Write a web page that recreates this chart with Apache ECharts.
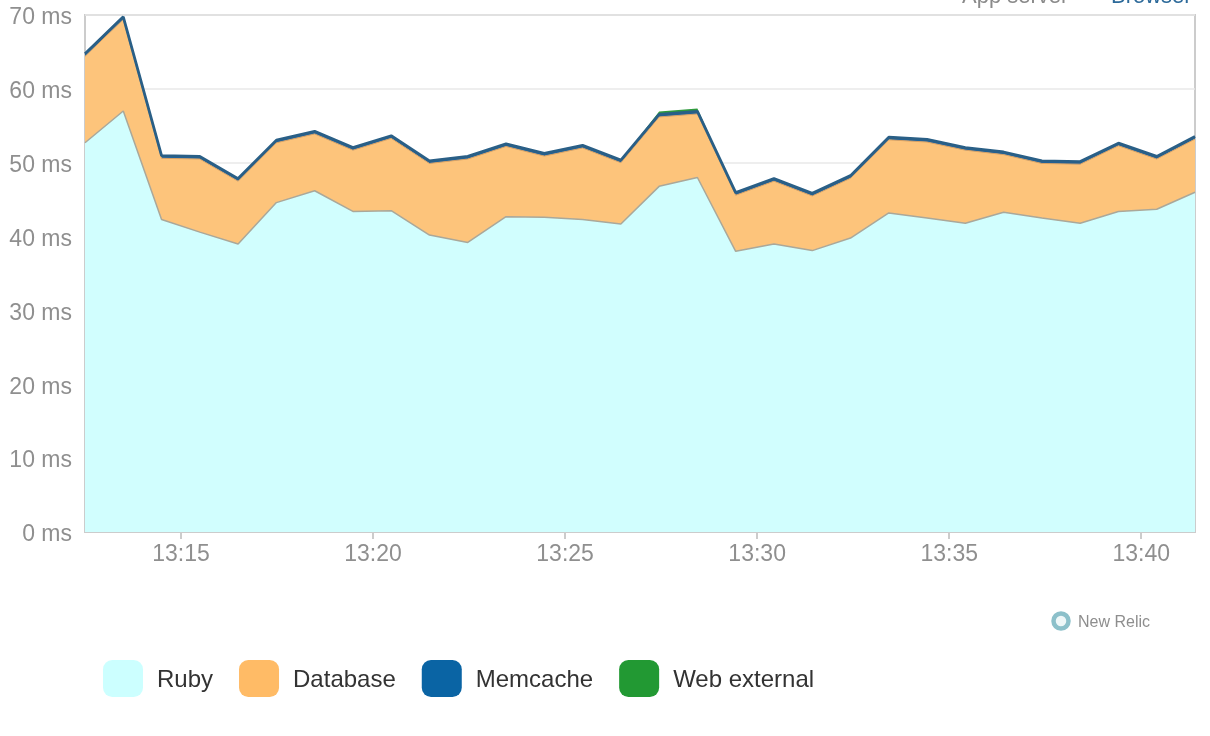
<!DOCTYPE html>
<html>
<head>
<meta charset="utf-8">
<script src="https://cdn.jsdelivr.net/npm/echarts@6/dist/echarts.min.js"></script>
<style>
html,body{margin:0;padding:0;background:#fff;}
#chart{width:1210px;height:736px;}
</style>
</head>
<body>
<div id="chart"></div>
<script>
// ---- data ----
const times = ['13:12:30','13:13:30','13:14:30','13:15:30','13:16:30','13:17:30','13:18:30','13:19:30','13:20:30','13:21:30',
               '13:22:30','13:23:30','13:24:30','13:25:30','13:26:30','13:27:30','13:28:30','13:29:30','13:30:30','13:31:30',
               '13:32:30','13:33:30','13:34:30','13:35:30','13:36:30','13:37:30','13:38:30','13:39:30','13:40:30','13:41:24'];
const ruby     = [52.7,57.0,42.3,40.6,39.0,44.6,46.2,43.4,43.5,40.2,39.2,42.7,42.6,42.3,41.7,46.8,48.0,38.0,39.0,38.1,39.8,43.2,42.5,41.8,43.3,42.5,41.8,43.4,43.7,46.0];
const database = [11.7,12.4,8.3,9.9,8.5,8.1,7.7,8.3,9.8,9.7,11.3,9.5,8.3,9.7,8.3,9.4,8.6,7.6,8.5,7.4,8.1,9.9,10.3,9.9,7.8,7.4,8.0,8.9,6.8,7.2];
const memcache = [0.35,0.35,0.35,0.35,0.35,0.35,0.35,0.35,0.35,0.35,0.35,0.35,0.35,0.35,0.35,0.35,0.35,0.35,0.35,0.35,0.35,0.35,0.35,0.35,0.35,0.35,0.35,0.35,0.35,0.35];
const webExternal = [0,0,0,0,0,0,0,0,0,0,0,0,0,0,0,0.4,0.4,0,0,0,0,0.1,0.1,0,0,0,0,0,0,0];
const xTickMinutes = [15,20,25,30,35,40];
const seriesNames = ['Ruby','Database','Memcache','Web external'];

function toMinutes(t){ const p=t.split(':').map(Number); return p[1] + p[2]/60; }
const xMin = toMinutes(times[0]);
const xMax = toMinutes(times[times.length-1]);

const chart = echarts.init(document.getElementById('chart'), null, {renderer:'canvas'});
const font = 'Liberation Sans, Arial, Helvetica, sans-serif';

const option = {
  animation:false,
  grid:{left:85,right:15,top:15,bottom:204,show:true,borderColor:'#cccccc',borderWidth:2,backgroundColor:'transparent'},
  xAxis:[
    { // data axis carrying the stacked series
      type:'category', data:times, boundaryGap:false,
      axisLine:{show:true,lineStyle:{color:'#cccccc',width:2}},
      axisTick:{show:false}, axisLabel:{show:false}, splitLine:{show:false}
    },
    { // time-of-day labels in minutes past 13:00
      type:'value', min:xMin, max:xMax, position:'bottom',
      axisLine:{show:false},
      axisTick:{show:true,customValues:xTickMinutes,length:7,lineStyle:{color:'#cccccc',width:2}},
      axisLabel:{customValues:xTickMinutes,color:'#8f8f8f',fontSize:23,fontFamily:font,margin:11,
        formatter:v=>'13:'+String(Math.round(v)).padStart(2,'0')},
      splitLine:{show:false}
    }
  ],
  yAxis:{
    type:'value', min:0, max:70, interval:10,
    axisLine:{show:false}, axisTick:{show:false},
    axisLabel:{formatter:'{v|{value} ms}',margin:13,
      rich:{v:{color:'#8f8f8f',fontSize:23,fontFamily:font,padding:[6,0,0,0]}}},
    splitLine:{show:true,lineStyle:{color:'#e8e8e8',width:1.5}}
  },
  legend:{
    left:103, top:660, padding:0, itemWidth:40, itemHeight:37, itemGap:26, icon:'roundRect',
    formatter:'{n|{name}}',
    textStyle:{fontSize:24,fontFamily:font,color:'#333333',
      rich:{n:{fontSize:24,fontFamily:font,color:'#333333',padding:[4,0,0,9]}}},
    data:seriesNames
  },
  graphic:[
    {type:'text',left:962,top:-14,style:{text:'App server',font:'22px '+font,fill:'#8a8a8a'}},
    {type:'text',left:1111,top:-14,style:{text:'Browser',font:'22px '+font,fill:'#2d6a9a'}},
    {type:'circle',shape:{cx:1061,cy:621,r:7.5},style:{fill:'#eef7f8',stroke:'#8cc0ca',lineWidth:4.5}},
    {type:'text',left:1078,top:615,style:{text:'New Relic',font:'16px '+font,fill:'#8e8e8e'}}
  ],
  series:[
    {name:'Ruby',type:'line',stack:'t',symbol:'none',color:'#ccffff',
     lineStyle:{color:'#aaa89a',width:1.5},areaStyle:{color:'#d1fefe',opacity:1},data:ruby},
    {name:'Database',type:'line',stack:'t',symbol:'none',color:'#ffbb66',
     lineStyle:{color:'#d9a060',width:1},areaStyle:{color:'#fdc47b',opacity:1},data:database},
    {name:'Memcache',type:'line',stack:'t',symbol:'none',color:'#0a64a4',
     lineStyle:{color:'#2a5f86',width:2.8},areaStyle:{color:'#1f64a0',opacity:1},data:memcache},
    {name:'Web external',type:'line',stack:'t',symbol:'none',color:'#229933',
     lineStyle:{width:0},areaStyle:{color:'#2e9a3c',opacity:1},data:webExternal}
  ]
};
chart.setOption(option);
</script>
</body>
</html>
